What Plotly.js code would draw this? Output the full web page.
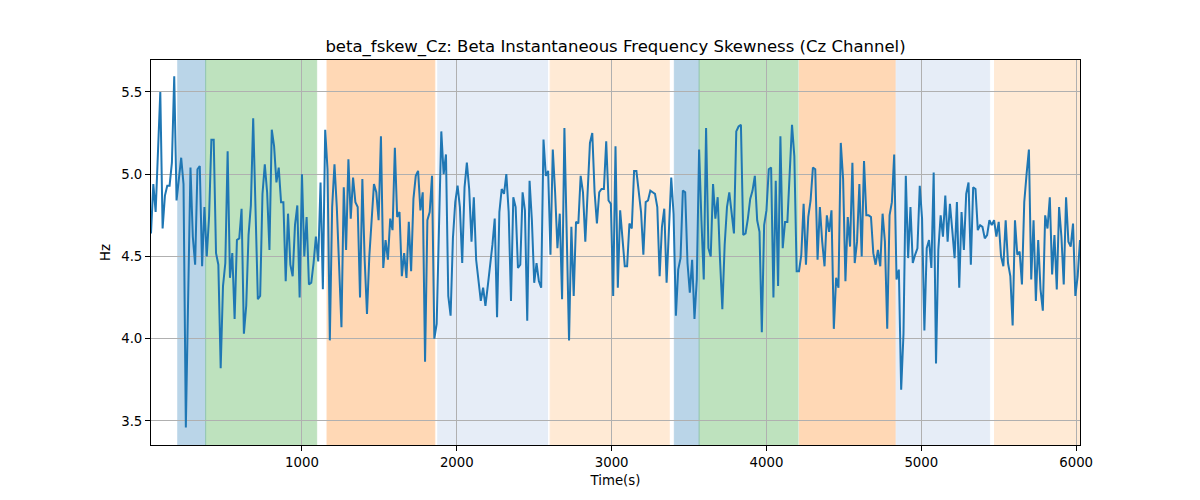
<!DOCTYPE html>
<html>
<head>
<meta charset="utf-8">
<script src="https://cdn.plot.ly/plotly-3.0.1.min.js"></script>
<style>html,body{margin:0;padding:0;background:#fff;}#chart{width:1200px;height:500px;}</style>
</head>
<body>
<div id="chart"></div>
<script>
// ---- data ----
const startTime = 25;   // seconds, first sample
const stepTime = 15;    // seconds between samples

const skewValues = [
  4.64, 4.94, 4.77, 5.14, 5.50, 4.67, 4.87, 4.93, 4.93, 5.07,
  5.595, 4.84, 4.97, 5.10, 4.94, 3.46, 4.25, 5.04, 4.62, 4.45,
  5.03, 5.05, 4.44, 4.80, 4.50, 4.74, 5.21, 5.21, 4.52, 4.45,
  3.82, 4.32, 4.46, 5.14, 4.37, 4.52, 4.12, 4.60, 4.61, 4.79,
  4.03, 4.20, 4.63, 4.81, 5.34, 4.76, 4.24, 4.26, 4.88, 5.06,
  4.89, 4.54, 5.27, 5.17, 4.95, 5.04, 4.83, 4.83,
  // segment 2
  4.35, 4.76, 4.45, 4.38, 4.69, 4.81, 4.25, 5.00, 4.50, 4.74,
  4.33, 4.34, 4.46, 4.62, 4.47, 4.95, 4.30, 5.27, 5.03, 3.99,
  4.80, 5.06, 4.80, 4.44, 4.07, 4.92, 4.54, 5.09, 4.73, 4.98,
  4.83, 4.80, 4.25, 4.97, 4.48, 4.15, 4.50, 4.72, 4.94, 4.89,
  4.72, 5.23, 4.43, 4.60, 4.48, 4.73, 4.66, 5.16, 4.74, 4.77,
  4.38, 4.52, 4.37, 4.71, 4.41,
  // segment 3
  4.85, 4.99, 5.02, 4.78, 4.89, 3.86, 4.72, 4.77, 4.99, 4.00,
  4.09, 4.67, 5.26, 5.00, 5.12, 4.26, 4.14, 4.61, 4.83, 4.93,
  4.80, 4.46, 4.92, 5.07, 4.91, 4.59, 4.86, 4.48, 4.35, 4.23,
  4.31, 4.20, 4.32, 4.43, 4.57, 4.73, 4.13, 4.77, 4.91, 4.88,
  5.00, 4.77, 4.23, 4.86, 4.80, 4.43, 4.45, 4.89, 4.78, 4.11,
  4.96, 4.72, 4.34, 4.46, 4.35, 4.31, 5.21, 4.99,
  // segment 4
  5.02, 4.51, 5.15, 4.89, 4.55, 4.76, 4.24, 5.28, 4.68, 3.99,
  4.68, 4.26, 4.71, 4.70, 4.99, 4.89, 4.59, 4.91, 5.19, 5.25,
  4.89, 4.70, 4.89, 4.91, 4.91, 5.20, 4.84, 4.82, 4.26, 5.17,
  4.31, 4.78, 4.63, 4.44, 4.44, 4.70, 4.67, 5.02, 5.02, 4.89,
  4.77, 4.51, 4.83, 4.84, 4.90, 4.89, 4.88, 4.80, 4.38, 4.68,
  4.79, 4.34, 4.68, 4.98, 4.76, 4.14,
  // segment 5
  4.42, 4.49, 4.90, 4.89, 4.46, 4.28, 4.48, 4.12, 4.36, 5.15,
  4.72, 4.36, 5.28, 4.55, 4.50, 4.94, 4.73, 4.86, 4.48, 4.18,
  4.57, 4.80, 4.89, 4.76, 4.64, 5.26, 5.29, 5.30, 4.63, 4.64,
  4.73, 4.85, 4.90, 4.99, 4.72, 4.65, 4.04, 4.69, 4.78, 5.03,
  5.04, 4.25, 4.96, 4.32, 5.23, 4.55, 4.71, 4.71, 4.99, 5.30,
  5.11, 4.41, 4.41, 4.51, 4.82, 4.45, 4.74, 4.84,
  // segment 6
  5.04, 5.03, 4.48, 4.80, 4.59, 4.44, 4.75, 4.65, 4.78, 4.06,
  4.37, 4.31, 5.19, 4.97, 4.35, 4.74, 4.56, 5.07, 4.46, 4.59,
  4.94, 4.50, 5.08, 4.75, 4.75, 4.74, 4.52, 4.45, 4.54, 4.44,
  4.76, 4.59, 4.06, 4.75, 4.83, 5.12, 4.36, 4.42, 3.69, 4.03,
  4.99, 4.49, 4.80, 4.46, 4.51, 4.55, 4.93, 4.73, 4.05, 4.55,
  4.60, 4.43, 5.01, 3.85, 4.54, 4.75, 4.62,
  // segment 7
  4.87, 4.59, 4.82, 4.66, 4.49, 4.83, 4.31, 4.77, 4.54, 4.88,
  4.95, 4.45, 4.92, 4.91, 4.66, 4.69, 4.68, 4.61, 4.63, 4.72,
  4.69, 4.72, 4.62, 4.71, 4.50, 4.44, 4.72, 4.46, 4.38, 4.08,
  4.72, 4.51, 4.53, 4.33, 4.83, 5.00, 5.15, 4.36, 4.72, 4.23,
  4.60, 4.30, 4.17, 4.75, 4.67, 4.86, 4.39, 4.63, 4.30, 4.80,
  4.62, 4.33, 4.86, 4.59, 4.56, 4.70, 4.26, 4.38, 4.60
];

// shaded stage intervals (seconds) and their colours
const spanStarts = [198, 378, 1162, 1877, 2603, 3405, 3565, 4213, 4838, 5473];
const spanEnds   = [378, 1095, 1858, 2586, 3372, 3565, 4204, 4831, 5441, 6040];
const spanColors = ['#1f77b4', '#2ca02c', '#ff7f0e', '#aec7e8', '#ffbb78',
                    '#1f77b4', '#2ca02c', '#ff7f0e', '#aec7e8', '#ffbb78'];

const yTickVals = [3.5, 4.0, 4.5, 5.0, 5.5];
const xTickVals = [1000, 2000, 3000, 4000, 5000, 6000];

// ---- build ----
const times = skewValues.map((_, i) => startTime + i * stepTime);

const shapes = spanStarts.map((s, i) => ({
  type: 'rect', xref: 'x', yref: 'paper',
  x0: s, x1: spanEnds[i], y0: 0, y1: 1,
  fillcolor: spanColors[i], opacity: 0.3,
  line: {width: 1, color: spanColors[i]},
  layer: 'between'
}));

const trace = {
  x: times, y: skewValues, type: 'scatter', mode: 'lines',
  line: {color: '#1f77b4', width: 2},
  hoverinfo: 'x+y'
};

const font = {family: 'DejaVu Sans, sans-serif', size: 13.3, color: '#000'};

const layout = {
  width: 1200, height: 500,
  margin: {l: 151, r: 120, t: 60, b: 55},
  paper_bgcolor: '#fff', plot_bgcolor: '#fff',
  font: font,
  showlegend: false,
  title: {
    text: 'beta_fskew_Cz: Beta Instantaneous Frequency Skewness (Cz Channel)',
    font: {family: 'DejaVu Sans, sans-serif', size: 16.5, color: '#000'},
    xref: 'paper', x: 0.5, xanchor: 'center',
    yref: 'container', y: 0.908, yanchor: 'middle'
  },
  xaxis: {
    range: [times[0], times[times.length - 1]],
    tickvals: xTickVals, ticktext: xTickVals.map(String),
    showgrid: true, gridcolor: '#b0b0b0', gridwidth: 1,
    zeroline: false,
    showline: true, linecolor: '#000', linewidth: 1, mirror: true,
    ticks: 'outside', ticklen: 5, tickcolor: '#000', tickwidth: 1,
    tickfont: font,
    title: {text: 'Time(s)', font: font, standoff: 6}
  },
  yaxis: {
    range: [3.354, 5.694],
    tickvals: yTickVals, ticktext: yTickVals.map(v => v.toFixed(1)),
    showgrid: true, gridcolor: '#b0b0b0', gridwidth: 1,
    zeroline: false,
    showline: true, linecolor: '#000', linewidth: 1, mirror: true,
    ticks: 'outside', ticklen: 5, tickcolor: '#000', tickwidth: 1,
    tickfont: font,
    title: {text: 'Hz', font: font, standoff: 7}
  },
  shapes: shapes
};

Plotly.newPlot('chart', [trace], layout, {displayModeBar: false, staticPlot: true});
</script>
</body>
</html>
